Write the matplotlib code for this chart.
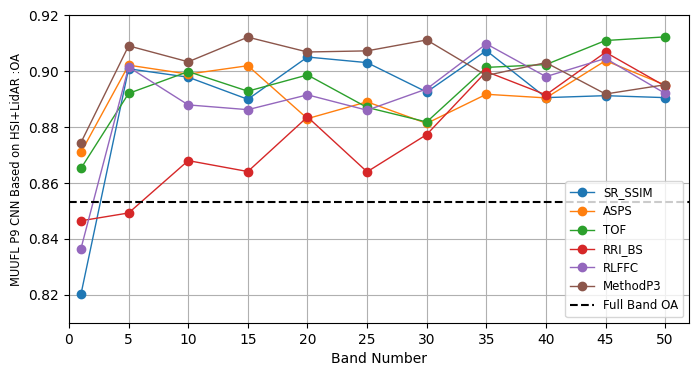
import numpy as np
import matplotlib
matplotlib.use("Agg")
import matplotlib.pyplot as plt

bands = [1, 5, 10, 15, 20, 25, 30, 35, 40, 45, 50]

# OA values per method
sr_ssim = [0.8202, 0.9008, 0.8978, 0.8899, 0.9050, 0.9030, 0.8925, 0.9073, 0.8905, 0.8912, 0.8905]
asps = [0.8709, 0.9021, 0.8989, 0.9019, 0.8830, 0.8890, 0.8813, 0.8917, 0.8904, 0.9037, 0.8950]
tof = [0.8652, 0.8920, 0.8998, 0.8928, 0.8986, 0.8870, 0.8818, 0.9013, 0.9023, 0.9109, 0.9122]
rri_bs = [0.8465, 0.8493, 0.8680, 0.8641, 0.8836, 0.8640, 0.8773, 0.8998, 0.8915, 0.9067, 0.8946]
rlffc = [0.8365, 0.9014, 0.8879, 0.8862, 0.8915, 0.8860, 0.8936, 0.9097, 0.8980, 0.9045, 0.8920]
method_p3 = [0.8744, 0.9090, 0.9033, 0.9121, 0.9068, 0.9072, 0.9111, 0.8984, 0.9030, 0.8918, 0.8951]
full_band_oa = 0.8533

series = {
    "SR_SSIM": sr_ssim,
    "ASPS": asps,
    "TOF": tof,
    "RRI_BS": rri_bs,
    "RLFFC": rlffc,
    "MethodP3": method_p3,
}

fig = plt.figure(figsize=(6.99, 3.76), dpi=100)
ax = fig.add_axes([0.0987, 0.141, 0.887, 0.819])

for name, vals in series.items():
    ax.plot(bands, vals, marker="o", linewidth=1, markersize=6, label=name)
ax.axhline(full_band_oa, color="black", linestyle="--", linewidth=1.5, label="Full Band OA")

ax.set_xlim(0, 52)
ax.set_ylim(0.81, 0.92)
ax.set_xticks(np.arange(0, 51, 5))
ax.set_yticks(np.arange(0.82, 0.921, 0.02))
ax.grid(True)
ax.set_xlabel("Band Number")
ax.set_ylabel("MUUFL P9 CNN Based on HSI+LidAR :OA", fontsize=8.3)
ax.legend(loc="lower right", fontsize=8.5)

fig.savefig("out.png", dpi=100)
